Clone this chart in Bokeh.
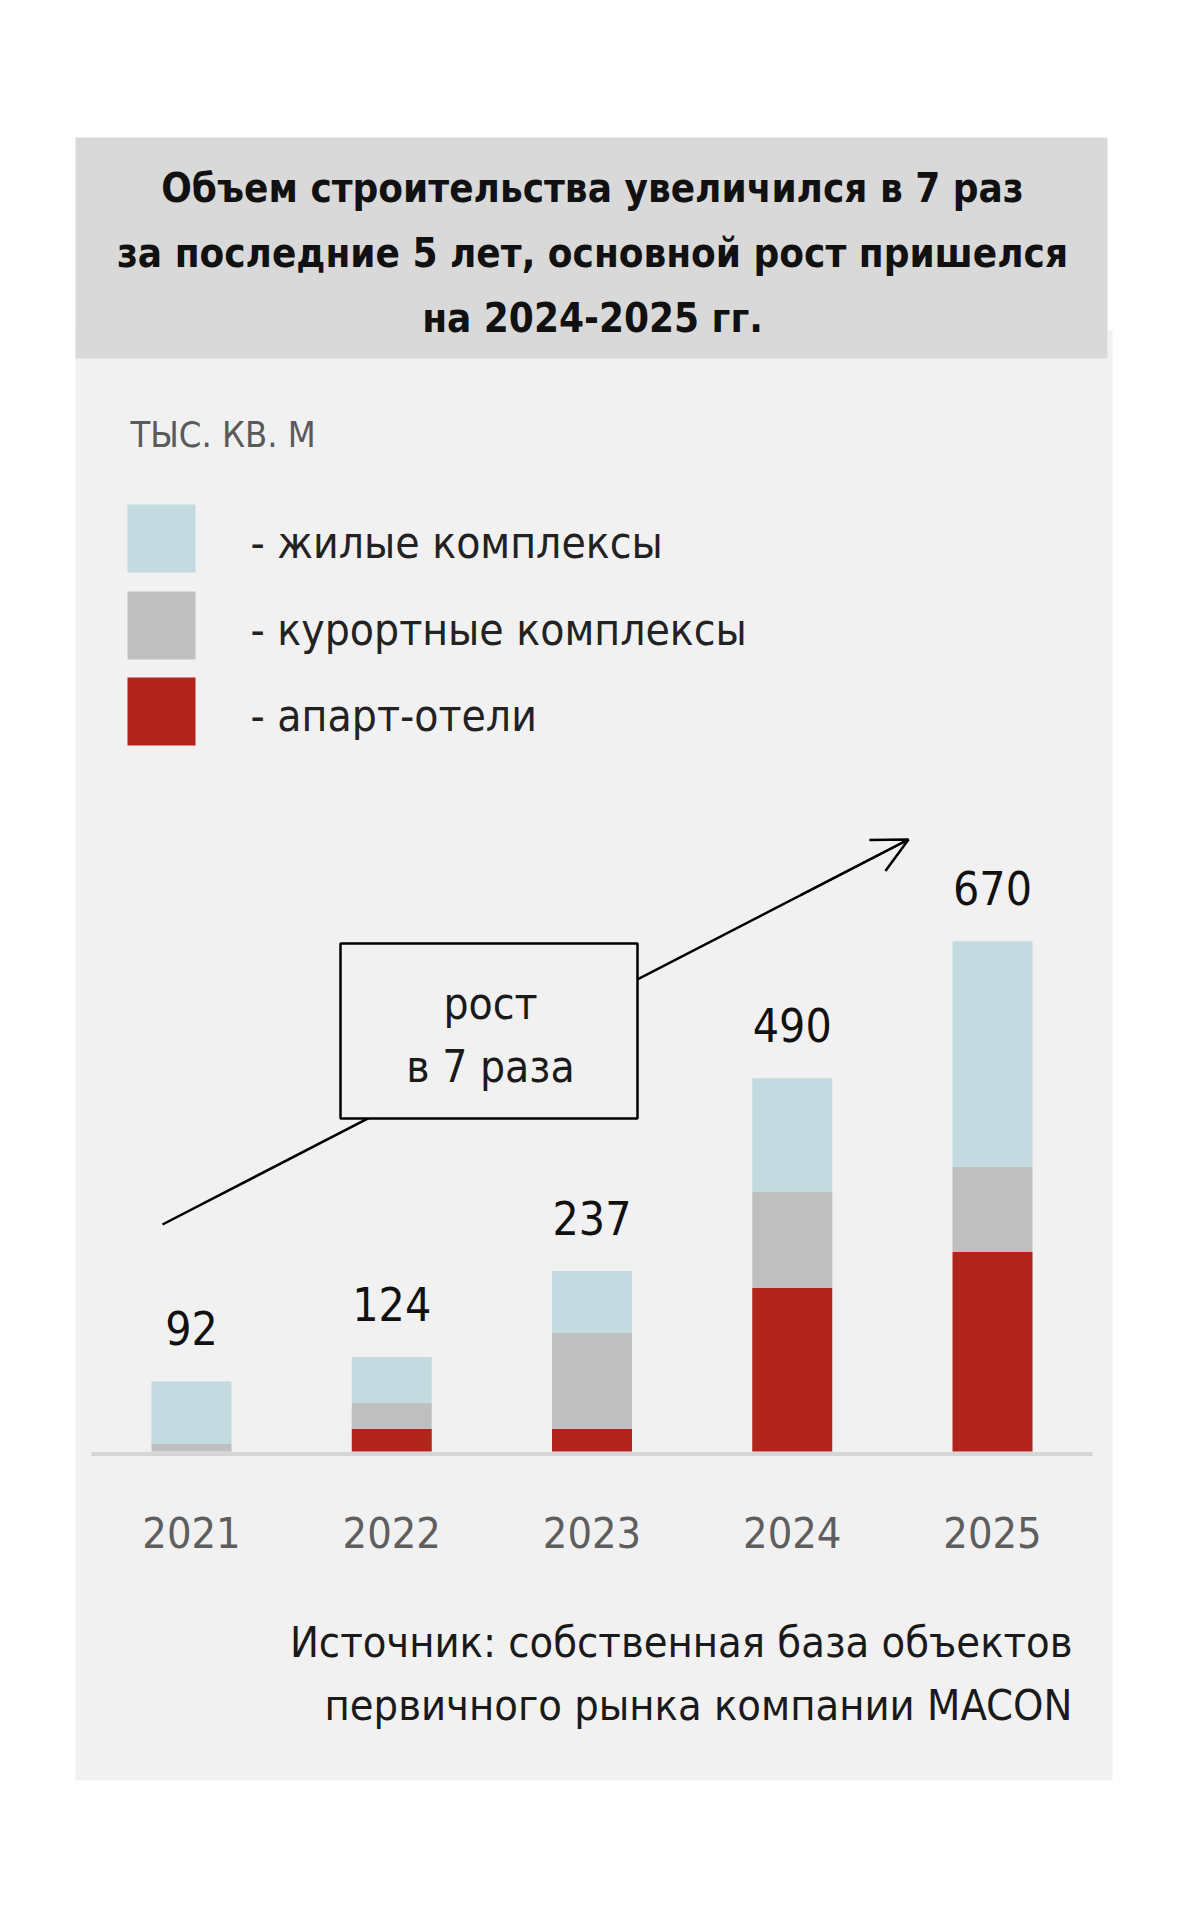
from bokeh.plotting import figure
from bokeh.models import Label, Arrow, OpenHead, Range1d, ColumnDataSource
from bokeh.core.properties import value
from bokeh.embed import file_html
from bokeh.resources import INLINE

# data (тыс. кв. м)
years = ["2021", "2022", "2023", "2024", "2025"]
apart_hotels = [0, 30, 30, 215, 262]
resorts = [10, 34, 126, 126, 112]
residential = [82, 60, 81, 149, 296]
totals = [92, 124, 237, 490, 670]

series_names = ["- жилые комплексы", "- курортные комплексы", "- апарт-отели"]
series_colors = ["#c3dae1", "#bfbfbf", "#b0241b"]

title_lines = ["Объем строительства увеличился в 7 раз",
               "за последние 5 лет, основной рост пришелся",
               "на 2024-2025 гг."]
unit_text = "ТЫС. КВ. М"
note_lines = ["рост", "в 7 раза"]
source_lines = ["Источник: собственная база объектов",
                "первичного рынка компании MACON"]

FONT = "'DejaVu Sans Condensed', Roboto, sans-serif"
PANEL = "#f1f1f1"
BAND = "#d9d9d9"

W, H = 1164, 1904
# picture coords (px) -> data coords
BAR0 = 191      # centre of first bar
STEP = 200.25   # distance between bars
BASE = 1451     # bar baseline
UNIT = 0.7617   # px per 1 thousand sq m


def fx(px):
    return (px - BAR0) / STEP


def fy(py):
    return (BASE - py) / UNIT


p = figure(width=W, height=H,
           x_range=Range1d(fx(0), fx(W)),
           y_range=Range1d(fy(H), fy(0)),
           x_axis_location=None, y_axis_location=None,
           output_backend="svg", toolbar_location=None,
           min_border=0, background_fill_color="white",
           border_fill_color="white", outline_line_color=None)
p.grid.visible = False

# background panels
p.quad(left=fx(75), right=fx(1112), top=fy(330), bottom=fy(1780),
       fill_color=PANEL, line_color=None)
p.quad(left=fx(75), right=fx(1107), top=fy(137), bottom=fy(358),
       fill_color=BAND, line_color=None)

for i, line in enumerate(title_lines):
    p.add_layout(Label(x=fx(592), y=fy(187 + i * 65), text=line,
                       text_align="center", text_baseline="alphabetic",
                       text_font=FONT, text_font_style="bold",
                       text_font_size="40px", text_color="#111111"))

p.add_layout(Label(x=fx(130), y=fy(434), text=unit_text,
                   text_baseline="alphabetic", text_font=FONT,
                   text_font_size="36px", text_color="#5a5a5a"))

# legend
leg_tops = [504, 591, 677]
for name, col, top in zip(series_names, series_colors, leg_tops):
    p.quad(left=fx(127), right=fx(195), top=fy(top), bottom=fy(top + 68),
           fill_color=col, line_color=None)
    p.add_layout(Label(x=fx(250), y=fy(top + 38), text=name,
                       text_baseline="alphabetic", text_font=FONT,
                       text_font_size="44px", text_color="#222222"))

# growth arrow with the note box on top
x0, y0, x1, y1 = 162, 1224, 908, 839
p.segment(x0=fx(x0), y0=fy(y0), x1=fx(x1), y1=fy(y1),
          line_color="black", line_width=2.5)
xm = 800
ym = y0 + (y1 - y0) * (xm - x0) / (x1 - x0)
p.add_layout(Arrow(x_start=fx(xm), y_start=fy(ym), x_end=fx(x1), y_end=fy(y1),
                   line_color="black", line_width=2.5,
                   end=OpenHead(size=35, line_color="black", line_width=2.5)))
p.quad(left=fx(340), right=fx(637), top=fy(943), bottom=fy(1118),
       fill_color=PANEL, line_color="black", line_width=2.5)
for i, line in enumerate(note_lines):
    p.add_layout(Label(x=fx(490), y=fy(1003 + i * 63), text=line,
                       text_align="center", text_baseline="alphabetic",
                       text_font=FONT, text_font_size="44px",
                       text_color="#1a1a1a"))

# stacked bars
idx = list(range(len(years)))
src = ColumnDataSource(dict(x=idx, apart=apart_hotels, resort=resorts,
                            living=residential))
p.vbar_stack(["apart", "resort", "living"], x="x", width=80 / STEP,
             source=src, fill_color=series_colors[::-1], line_color=None)

p.segment(x0=fx(91), y0=fy(1453.5), x1=fx(1092), y1=fy(1453.5),
          line_color="#d6d6d6", line_width=4)

# totals above bars
p.text(x=idx, y=[t + 70 for t in totals], text=[str(t) for t in totals],
       text_align="center", text_baseline="alphabetic",
       text_font=value(FONT), text_font_size="46px", text_color="#111111")

# years under bars
p.text(x=idx, y=[fy(1532)] * len(years), text=years,
       text_align="center", text_baseline="alphabetic",
       text_font=value(FONT), text_font_size="43px", text_color="#5e5e5e")

for i, line in enumerate(source_lines):
    p.add_layout(Label(x=fx(1072), y=fy(1641 + i * 63), text=line,
                       text_align="right", text_baseline="alphabetic",
                       text_font=FONT, text_font_size="43px",
                       text_color="#1a1a1a"))

open("out.html", "w").write(file_html(p, INLINE))
